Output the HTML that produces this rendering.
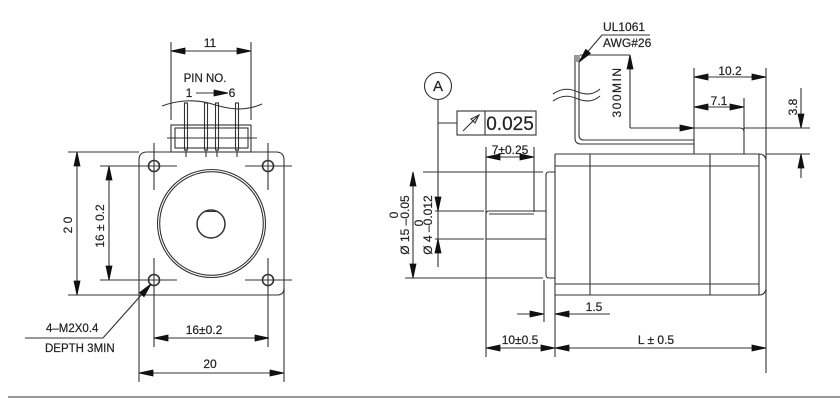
<!DOCTYPE html>
<html><head><meta charset="utf-8"><style>
html,body{margin:0;padding:0;background:#fff;}
svg{display:block;}
text{font-family:"Liberation Sans",Arial,sans-serif;fill:#222;stroke:#222;stroke-width:0.2;}
.ar polygon{fill:#111;stroke:#111;stroke-width:0.8;stroke-linejoin:miter;}
</style></head><body>
<svg width="840" height="400" viewBox="0 0 840 400" xmlns="http://www.w3.org/2000/svg">
<rect width="840" height="400" fill="#fff"/>
<g fill="none" stroke="#333" stroke-width="1.1">
<!-- LEFT VIEW -->
<path d="M139,382 V160 Q139,152 147,152 H276 Q284,152 284,160 V382"/>
<path d="M68,152 H139"/>
<path d="M68,295 H277 Q284,295 284,288"/>
<g stroke-width="1.6"><circle cx="154" cy="166" r="5.5"/><circle cx="268" cy="166" r="5.5"/><circle cx="154" cy="280" r="5.5"/><circle cx="268" cy="280" r="5.5"/></g>
<path d="M100,166 H177 M245,166 H292 M100,280 H177 M245,280 H292 M154,143 V190 M268,143 V190 M154,258 V347 M268,258 V347"/>
<circle cx="211.5" cy="223.5" r="54"/>
<circle cx="211.5" cy="223.5" r="51.8"/>
<circle cx="211" cy="224" r="14" stroke-width="1.5"/>
<path d="M204,211.5 H218"/>
<rect x="171" y="125" width="80" height="27"/>
<rect x="175" y="128" width="73" height="20"/>
<path d="M167,138 H257"/>
<rect x="184.5" y="103" width="3" height="47"/><rect x="204.5" y="103" width="3" height="47"/><rect x="215.5" y="103" width="3" height="47"/><rect x="235.5" y="103" width="3" height="47"/>
<path d="M186,150 V157 M206,150 V157 M217,150 V157 M237,150 V157"/>
<path d="M162,106 C178,100 196,99 212,104 C228,109 244,112 262,104"/>
<path d="M171,42 V120 M251,42 V120"/>
<path d="M171,51 H251"/>
<path d="M196,93 H228"/>
<path d="M77,152 V295 M109,166 V280"/>
<path d="M154,338 H269 M139,373 H284"/>
<path d="M103,338 L151,284 M25,338 H103"/>

<!-- RIGHT VIEW -->
<circle cx="438" cy="86" r="13.5"/>
<path d="M438,99.5 V267"/>
<path d="M438,123 H457"/>
<rect x="457" y="111" width="79" height="24"/>
<path d="M485,111 V135"/>
<path d="M463,131 L479,115"/>
<path d="M479,115 L471,119 L475,123 Z"/>
<path d="M486,147 V357 M534,147 V212"/>
<path d="M486,157 H534"/>
<path d="M489,211 H546 M489,214 H534 M486,239 H546 M486,214 Q486,211 489,211"/>
<path d="M435,211 H484 M435,239 H484 M423,172 H543 M405,278 H543"/>
<path d="M413,172 V278"/>
<path d="M555,172 H549 Q546,172 546,175 V275 Q546,278 549,278 H555"/>
<path d="M555,154 H759 Q765,154 766,160 M555,154 V295 H759 Q765,295 766,289"/>
<path d="M759,154 V295 M555,166 H759 M555,284 H759 M590,154 V295 M710,154 V295"/>
<path d="M766,68 V373"/>
<path d="M694,68 V154 M630,128 H740 Q744,128 744,132 M744,98 V154"/>
<path d="M744,128 H810 M766,154 H810"/>
<path d="M694,77 H766 M694,107 H744"/>
<path d="M801,88 V128 M801,154 V178"/>
<path d="M575,55 V138 Q575,144 581,144 H694"/>
<path d="M579,57 V135 Q579,140 584,140 H694"/>
<path d="M580,55 H630 M630,55 V128"/>
<path d="M602,35 L579,62 M602,35 H650"/>
<path d="M553,94 C563,87 571,89 578,92 C586,95 593,95 600,89"/>
<path d="M553,101 C563,94 571,96 578,99 C586,102 593,102 600,96"/>
<path d="M544,280 V322 M555,295 V357"/>
<path d="M517,314 H544 M555,314 H610"/>
<path d="M486,348 H766"/>
</g>
<rect x="575" y="55" width="5" height="7" fill="#999"/>
<line x1="8" y1="397" x2="840" y2="397" stroke="#999" stroke-width="2"/>

<!-- ARROWHEADS -->
<g class="ar">
<polygon points="171,51 185,48 185,54"/><polygon points="251,51 237,48 237,54"/>
<polygon points="228,93 214,90 214,96"/>
<polygon points="77,152 74,166 80,166"/><polygon points="77,295 74,281 80,281"/>
<polygon points="109,166 106,180 112,180"/><polygon points="109,280 106,266 112,266"/>
<polygon points="154,338 168,335 168,341"/><polygon points="269,338 255,335 255,341"/>
<polygon points="139,373 153,370 153,376"/><polygon points="284,373 270,370 270,376"/>
<polygon points="151,284 144,296.7 139.5,292.7"/>
<polygon points="486,157 500,154 500,160"/><polygon points="534,157 520,154 520,160"/>
<polygon points="413,172 410,186 416,186"/><polygon points="413,278 410,264 416,264"/>
<polygon points="438,211 435,197 441,197"/><polygon points="438,239 435,253 441,253"/>
<polygon points="694,77 708,74 708,80"/><polygon points="766,77 752,74 752,80"/>
<polygon points="694,107 708,104 708,110"/><polygon points="744,107 730,104 730,110"/>
<polygon points="801,128 798,114 804,114"/><polygon points="801,154 798,168 804,168"/>
<polygon points="630,55 627,69 633,69"/><polygon points="694,128 680,125 680,131"/>
<polygon points="579,62 590.4,53.3 585.8,49.4"/>
<polygon points="544,314 530,311 530,317"/><polygon points="555,314 569,311 569,317"/>
<polygon points="486,348 500,345 500,351"/><polygon points="555,348 541,345 541,351"/>
<polygon points="555,348 569,345 569,351"/><polygon points="766,348 752,345 752,351"/>
</g>

<g style="font-size:12px">
<text x="210" y="47" text-anchor="middle">11</text>
<text x="205" y="82" text-anchor="middle" style="font-size:11.5px">PIN NO.</text>
<text x="189" y="97" text-anchor="middle">1</text>
<text x="232" y="97" text-anchor="middle">6</text>
<text transform="translate(72,225) rotate(-90)" text-anchor="middle">2 0</text>
<text transform="translate(104,226) rotate(-90)" text-anchor="middle">16 ± 0.2</text>
<text x="204" y="334" text-anchor="middle">16±0.2</text>
<text x="210" y="368" text-anchor="middle">20</text>
<text x="46" y="332" style="font-size:11.5px">4–M2X0.4</text>
<text x="45" y="352" style="font-size:11.5px">DEPTH 3MIN</text>

<text x="438" y="91" text-anchor="middle" style="font-size:15px">A</text>
<text x="510" y="130" text-anchor="middle" style="font-size:19px">0.025</text>
<text x="510" y="154" text-anchor="middle">7±0.25</text>
<text transform="translate(409,225) rotate(-90)" text-anchor="middle">Ø 15 –0.05</text>
<text transform="translate(398,215) rotate(-90)" text-anchor="middle">0</text>
<text transform="translate(432,225) rotate(-90)" text-anchor="middle">Ø 4 –0.012</text>
<text transform="translate(423,223) rotate(-90)" text-anchor="middle">0</text>
<text x="603" y="31">UL1061</text>
<text x="603" y="47">AWG#26</text>
<text transform="translate(621,92) rotate(-90)" text-anchor="middle" letter-spacing="1.5">300MIN</text>
<text x="730" y="75" text-anchor="middle">10.2</text>
<text x="719" y="105" text-anchor="middle">7.1</text>
<text transform="translate(797,107) rotate(-90)" text-anchor="middle">3.8</text>
<text x="594" y="311" text-anchor="middle">1.5</text>
<text x="520" y="344" text-anchor="middle">10±0.5</text>
<text x="656" y="344" text-anchor="middle">L ± 0.5</text>
</g>
</svg>
</body></html>
